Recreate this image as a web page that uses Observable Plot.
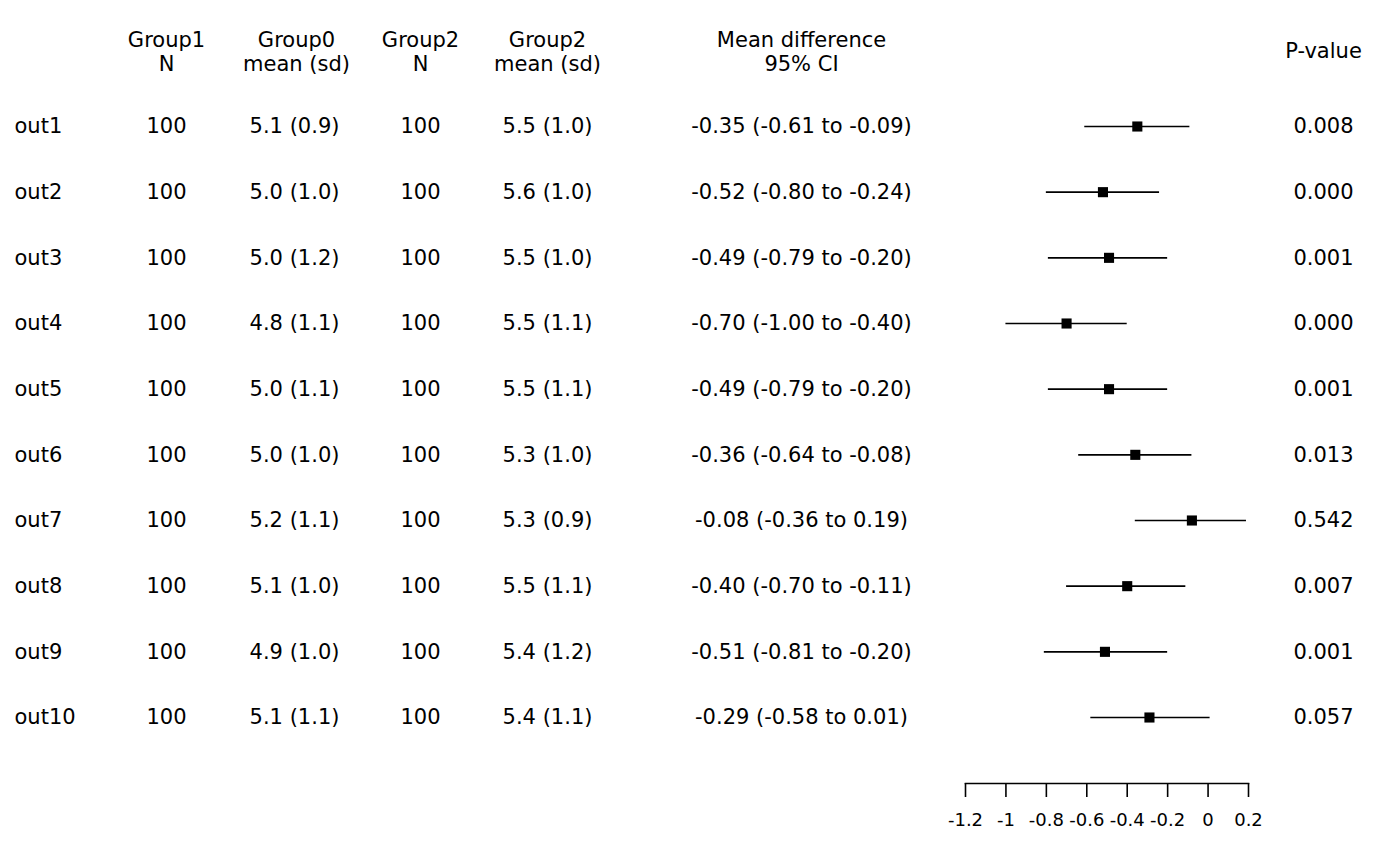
<!DOCTYPE html>
<html>
<head>
<meta charset="utf-8">
<script src="https://cdn.jsdelivr.net/npm/d3@7"></script>
<script src="https://cdn.jsdelivr.net/npm/@observablehq/plot@0.6"></script>
<style>
  html, body { margin: 0; padding: 0; background: #fff; }
  #chart svg { display: block; }
</style>
</head>
<body>
<div id="chart"></div>
<script>
const outcomes = ["out1","out2","out3","out4","out5","out6","out7","out8","out9","out10"];
const group1N = [100,100,100,100,100,100,100,100,100,100];
const group0Mean = [5.1,5.0,5.0,4.8,5.0,5.0,5.2,5.1,4.9,5.1];
const group0Sd   = [0.9,1.0,1.2,1.1,1.1,1.0,1.1,1.0,1.0,1.1];
const group2N = [100,100,100,100,100,100,100,100,100,100];
const group2Mean = [5.5,5.6,5.5,5.5,5.5,5.3,5.3,5.5,5.4,5.4];
const group2Sd   = [1.0,1.0,1.0,1.1,1.1,1.0,0.9,1.1,1.2,1.1];
const estimate = [-0.35,-0.52,-0.49,-0.70,-0.49,-0.36,-0.08,-0.40,-0.51,-0.29];
const ciLow    = [-0.61,-0.80,-0.79,-1.00,-0.79,-0.64,-0.36,-0.70,-0.81,-0.58];
const ciHigh   = [-0.09,-0.24,-0.20,-0.40,-0.20,-0.08,0.19,-0.11,-0.20,0.01];
const pValues  = ["0.008","0.000","0.001","0.000","0.001","0.013","0.542","0.007","0.001","0.057"];
const xTicks = [-1.2,-1,-0.8,-0.6,-0.4,-0.2,0,0.2];

const rows = outcomes.map((o, i) => ({
  outcome: o,
  n1: String(group1N[i]),
  g0: `${group0Mean[i].toFixed(1)} (${group0Sd[i].toFixed(1)})`,
  n2: String(group2N[i]),
  g2: `${group2Mean[i].toFixed(1)} (${group2Sd[i].toFixed(1)})`,
  md: `${estimate[i].toFixed(2)} (${ciLow[i].toFixed(2)} to ${ciHigh[i].toFixed(2)})`,
  est: estimate[i], lo: ciLow[i], hi: ciHigh[i],
  p: pValues[i]
}));

const W = 1400, H = 866;
const mL = 965, mR = 152, mB = 83;
// horizontal column centres relative to the forest frame's left edge
const col = x => x - mL;
const font = "DejaVu Sans";
const fs = 21;

const hdr = (label, cx, cy) => Plot.text([label], {frameAnchor: "top-left", dx: col(cx), dy: cy,
  textAnchor: "middle", lineAnchor: "middle", lineHeight: 1.15, fontSize: fs, fill: "black"});
const column = (field, cx, anchor = "middle") => Plot.text(rows, {y: "outcome", text: field,
  frameAnchor: "left", dx: col(cx), textAnchor: anchor, fontSize: fs, fill: "black"});

const chart = Plot.plot({
  width: W,
  height: H,
  marginLeft: mL,
  marginRight: mR,
  marginTop: 0,
  marginBottom: mB,
  style: {fontFamily: font, fontSize: fs + "px", color: "black", background: "white"},
  x: {domain: [-1.2, 0.2], axis: null},
  y: {type: "point", domain: outcomes, axis: null, padding: 0, round: false, insetTop: 126, insetBottom: 66},
  marks: [
    hdr("Group1\nN", 166, 51),
    hdr("Group0\nmean (sd)", 296, 51),
    hdr("Group2\nN", 420, 51),
    hdr("Group2\nmean (sd)", 547, 51),
    hdr("Mean difference\n95% CI", 801, 51),
    hdr("P-value", 1323, 50),
    column("outcome", 14, "start"),
    column("n1", 166),
    column("g0", 294),
    column("n2", 420),
    column("g2", 547),
    column("md", 801),
    column("p", 1323),
    Plot.ruleY(rows, {y: "outcome", x1: "lo", x2: "hi", stroke: "black", strokeWidth: 1.6}),
    Plot.dot(rows, {x: "est", y: "outcome", symbol: "square", r: 5.7, fill: "black", stroke: "none"}),
    Plot.frame({anchor: "bottom", stroke: "black", strokeWidth: 1.6}),
    Plot.axisX({ticks: xTicks, tickSize: 14, tickPadding: 16, strokeWidth: 1.6, stroke: "black",
      fontSize: 18, tickFormat: d => String(+d.toFixed(1)), fill: "black"})
  ]
});

document.getElementById("chart").appendChild(chart);
</script>
</body>
</html>
